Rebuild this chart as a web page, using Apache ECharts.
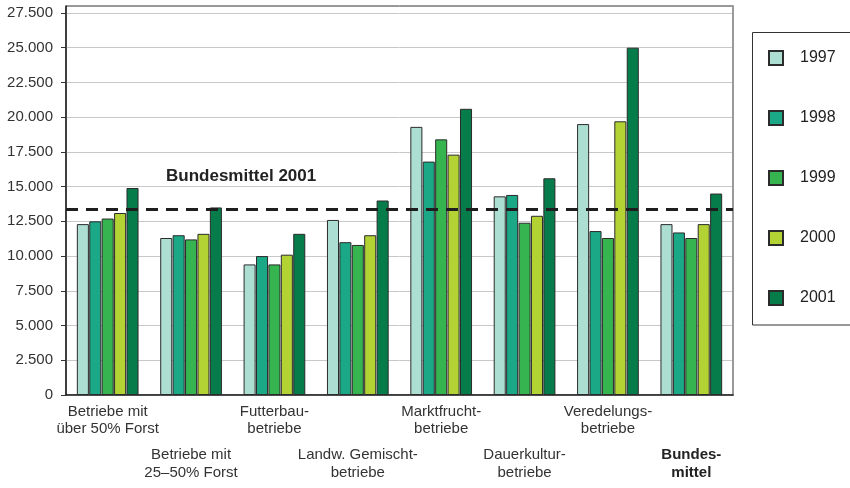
<!DOCTYPE html>
<html>
<head>
<meta charset="utf-8">
<script src="https://cdn.jsdelivr.net/npm/echarts@6/dist/echarts.min.js"></script>
<style>
html,body{margin:0;padding:0;background:#fff;}
#c{width:850px;height:488px;}
</style>
</head>
<body>
<div id="c"></div>
<script>
var categories = [
  'Betriebe mit\nüber 50% Forst',
  'Betriebe mit\n25–50% Forst',
  'Futterbau-\nbetriebe',
  'Landw. Gemischt-\nbetriebe',
  'Marktfrucht-\nbetriebe',
  'Dauerkultur-\nbetriebe',
  'Veredelungs-\nbetriebe',
  'Bundes-\nmittel'
];
var years = ['1997', '1998', '1999', '2000', '2001'];
var v1997 = [12300, 11300, 9400, 12600, 19300, 14300, 19500, 12300];
var v1998 = [12500, 11500, 10000, 11000, 16800, 14400, 11800, 11700];
var v1999 = [12700, 11200, 9400, 10800, 18400, 12400, 11300, 11300];
var v2000 = [13100, 11600, 10100, 11500, 17300, 12900, 19700, 12300];
var v2001 = [14900, 13500, 11600, 14000, 20600, 15600, 25000, 14500];
var bundesmittel2001 = 13400;
var bundesLabel = 'Bundesmittel 2001';
var yTicks = [0, 2500, 5000, 7500, 10000, 12500, 15000, 17500, 20000, 22500, 25000, 27500];

var seriesValues = [v1997, v1998, v1999, v2000, v2001];
var colors = ['#acdfd2', '#1aa887', '#35b44f', '#b3d335', '#077c4b'];

function fmtNum(v) {
  return String(v).replace(/\B(?=(\d{3})+(?!\d))/g, '.');
}

var chart = echarts.init(document.getElementById('c'), null, {renderer: 'canvas'});

var series = years.map(function (y, i) {
  var s = {
    name: y,
    type: 'bar',
    data: seriesValues[i],
    barGap: '3%',
    barCategoryGap: '26%',
    itemStyle: {color: colors[i], borderColor: '#2b2b2b', borderWidth: 1},
    emphasis: {disabled: true}
  };
  if (i === 4) {
    s.markLine = {
      silent: true,
      symbol: ['none', 'none'],
      label: {show: false},
      lineStyle: {color: '#1e1e1e', width: 3, type: [12, 8]},
      data: [{yAxis: bundesmittel2001}]
    };
  }
  return s;
});

var option = {
  animation: false,
  textStyle: {fontFamily: 'Liberation Sans, Arial, sans-serif'},
  grid: {left: 66, top: 6, right: 117, bottom: 93, show: true, borderColor: '#333', borderWidth: 1},
  legend: {
    orient: 'vertical',
    left: 768,
    top: 50,
    padding: 0,
    itemWidth: 14,
    itemHeight: 14,
    itemGap: 44,
    icon: 'rect',
    data: years,
    textStyle: {fontSize: 16, color: '#222', padding: [0, 0, 0, 12]}
  },
  xAxis: {
    type: 'category',
    data: categories,
    axisLine: {lineStyle: {color: '#222', width: 1.5}},
    axisTick: {show: false},
    axisLabel: {
      interval: 0,
      margin: 8,
      color: '#333',
      fontSize: 15,
      formatter: function (val, idx) {
        var lines = val.split('\n');
        var st = idx === categories.length - 1 ? 'b' : 't';
        var body = lines.map(function (l) { return '{' + st + '|' + l + '}'; }).join('\n');
        if (idx % 2 === 1) return '{g| }\n' + body;
        return body;
      },
      rich: {
        t: {fontSize: 15, lineHeight: 17.5, color: '#333'},
        b: {fontSize: 15, lineHeight: 17.5, color: '#222', fontWeight: 'bold'},
        g: {fontSize: 15, lineHeight: 43.5}
      }
    }
  },
  yAxis: [{
    type: 'value',
    min: 0,
    max: 28000,
    interval: 2500,
    axisLine: {show: true, lineStyle: {color: '#222', width: 1.5}},
    axisTick: {show: true, length: 5, inside: false, lineStyle: {color: '#333'}, customValues: yTicks},
    axisLabel: {
      margin: 13,
      color: '#333',
      fontSize: 15,
      customValues: yTicks,
      formatter: function (v) { return fmtNum(v); }
    },
    splitLine: {show: true, lineStyle: {color: '#c8c8c8', width: 1}}
  }, {
    type: 'value',
    position: 'right',
    min: 0,
    max: 28000,
    axisLine: {show: true, lineStyle: {color: '#9a9a9a', width: 2}},
    axisTick: {show: false},
    axisLabel: {show: false},
    splitLine: {show: false}
  }],
  graphic: [
    {
      type: 'rect',
      shape: {x: 752.5, y: 32.5, width: 120, height: 292.5},
      style: {fill: 'none', stroke: '#333', lineWidth: 1},
      z: 0
    },
    {
      type: 'text',
      left: 166,
      top: 168,
      style: {text: bundesLabel, font: 'bold 17px "Liberation Sans", Arial, sans-serif', fill: '#222'},
      z: 10
    }
  ],
  series: series
};
chart.setOption(option);
</script>
</body>
</html>
